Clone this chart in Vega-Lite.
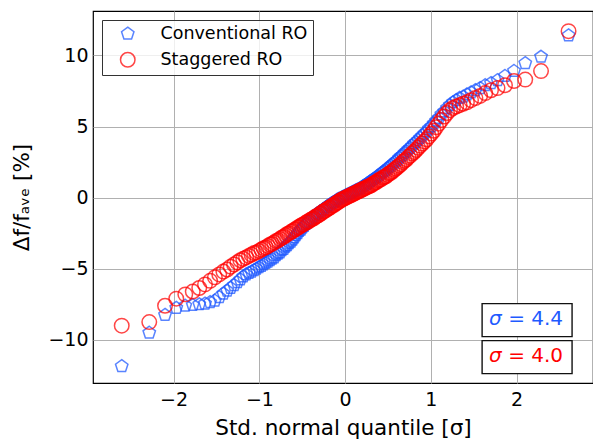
{
  "$schema": "https://vega.github.io/schema/vega-lite/v6.json",
  "width": 500,
  "height": 372,
  "autosize": "none",
  "padding": {"left": 93, "top": 11, "right": 0, "bottom": 58},
  "background": "white",
  "config": {
    "font": "DejaVu Sans",
    "view": {"stroke": "#000", "strokeWidth": 1.2},
    "axis": {
      "labelFont": "DejaVu Sans", "titleFont": "DejaVu Sans",
      "labelFontSize": 19, "titleFontSize": 21.5, "titleFontWeight": "normal",
      "labelColor": "#000", "titleColor": "#000",
      "gridColor": "#b0b0b0", "gridWidth": 1, "gridOpacity": 1,
      "domain": false, "ticks": false, "labelPadding": 5
    },
    "axisX": {"labelPadding": 7},
    "legend": {
      "labelFont": "DejaVu Sans", "labelFontSize": 17.5, "labelColor": "#000",
      "strokeColor": "#333", "fillColor": "rgba(255,255,255,0.8)",
      "padding": 5, "symbolOffset": 12, "labelOffset": 24, "rowPadding": 6,
      "symbolSize": 210, "symbolStrokeWidth": 1.5, "cornerRadius": 0
    }
  },
  "datasets": {
    "qq": [
      {"q": -2.605, "conv": -11.85, "stag": -9.0},
      {"q": -2.284, "conv": -9.5, "stag": -8.75},
      {"q": -2.1, "conv": -8.25, "stag": -7.6},
      {"q": -1.969, "conv": -7.75, "stag": -7.1},
      {"q": -1.864, "conv": -7.6, "stag": -6.8},
      {"q": -1.777, "conv": -7.55, "stag": -6.6},
      {"q": -1.701, "conv": -7.5, "stag": -6.35},
      {"q": -1.634, "conv": -7.45, "stag": -6.1},
      {"q": -1.574, "conv": -7.35, "stag": -5.85},
      {"q": -1.519, "conv": -7.25, "stag": -5.6},
      {"q": -1.468, "conv": -7.0, "stag": -5.4},
      {"q": -1.42, "conv": -6.75, "stag": -5.2},
      {"q": -1.376, "conv": -6.55, "stag": -5.05},
      {"q": -1.335, "conv": -6.35, "stag": -4.85},
      {"q": -1.295, "conv": -6.15, "stag": -4.7},
      {"q": -1.257, "conv": -5.95, "stag": -4.55},
      {"q": -1.222, "conv": -5.75, "stag": -4.4},
      {"q": -1.188, "conv": -5.55, "stag": -4.3},
      {"q": -1.155, "conv": -5.4, "stag": -4.2},
      {"q": -1.122, "conv": -5.3, "stag": -4.1},
      {"q": -1.092, "conv": -5.2, "stag": -4.0},
      {"q": -1.061, "conv": -5.1, "stag": -3.9},
      {"q": -1.033, "conv": -5.0, "stag": -3.85},
      {"q": -1.005, "conv": -4.9, "stag": -3.75},
      {"q": -0.977, "conv": -4.8, "stag": -3.65},
      {"q": -0.951, "conv": -4.7, "stag": -3.55},
      {"q": -0.925, "conv": -4.6, "stag": -3.5},
      {"q": -0.9, "conv": -4.5, "stag": -3.4},
      {"q": -0.875, "conv": -4.4, "stag": -3.3},
      {"q": -0.851, "conv": -4.3, "stag": -3.25},
      {"q": -0.827, "conv": -4.2, "stag": -3.15},
      {"q": -0.804, "conv": -4.05, "stag": -3.05},
      {"q": -0.781, "conv": -3.95, "stag": -3.0},
      {"q": -0.759, "conv": -3.85, "stag": -2.9},
      {"q": -0.737, "conv": -3.7, "stag": -2.8},
      {"q": -0.715, "conv": -3.6, "stag": -2.75},
      {"q": -0.694, "conv": -3.45, "stag": -2.65},
      {"q": -0.673, "conv": -3.35, "stag": -2.55},
      {"q": -0.652, "conv": -3.2, "stag": -2.5},
      {"q": -0.631, "conv": -3.1, "stag": -2.4},
      {"q": -0.611, "conv": -2.95, "stag": -2.35},
      {"q": -0.591, "conv": -2.8, "stag": -2.25},
      {"q": -0.572, "conv": -2.65, "stag": -2.2},
      {"q": -0.552, "conv": -2.5, "stag": -2.1},
      {"q": -0.533, "conv": -2.35, "stag": -2.05},
      {"q": -0.514, "conv": -2.25, "stag": -1.95},
      {"q": -0.495, "conv": -2.1, "stag": -1.9},
      {"q": -0.476, "conv": -2.0, "stag": -1.85},
      {"q": -0.457, "conv": -1.85, "stag": -1.75},
      {"q": -0.439, "conv": -1.75, "stag": -1.7},
      {"q": -0.421, "conv": -1.65, "stag": -1.65},
      {"q": -0.402, "conv": -1.55, "stag": -1.55},
      {"q": -0.384, "conv": -1.45, "stag": -1.5},
      {"q": -0.366, "conv": -1.35, "stag": -1.45},
      {"q": -0.349, "conv": -1.25, "stag": -1.35},
      {"q": -0.331, "conv": -1.15, "stag": -1.3},
      {"q": -0.313, "conv": -1.1, "stag": -1.25},
      {"q": -0.296, "conv": -1.0, "stag": -1.15},
      {"q": -0.278, "conv": -0.95, "stag": -1.1},
      {"q": -0.261, "conv": -0.85, "stag": -1.0},
      {"q": -0.244, "conv": -0.8, "stag": -0.95},
      {"q": -0.227, "conv": -0.7, "stag": -0.9},
      {"q": -0.21, "conv": -0.65, "stag": -0.8},
      {"q": -0.193, "conv": -0.55, "stag": -0.75},
      {"q": -0.176, "conv": -0.5, "stag": -0.7},
      {"q": -0.159, "conv": -0.4, "stag": -0.6},
      {"q": -0.142, "conv": -0.35, "stag": -0.55},
      {"q": -0.125, "conv": -0.3, "stag": -0.5},
      {"q": -0.109, "conv": -0.25, "stag": -0.4},
      {"q": -0.092, "conv": -0.15, "stag": -0.35},
      {"q": -0.075, "conv": -0.1, "stag": -0.3},
      {"q": -0.058, "conv": -0.05, "stag": -0.2},
      {"q": -0.042, "conv": 0.0, "stag": -0.15},
      {"q": -0.025, "conv": 0.05, "stag": -0.1},
      {"q": -0.008, "conv": 0.1, "stag": -0.05},
      {"q": 0.008, "conv": 0.15, "stag": 0.0},
      {"q": 0.025, "conv": 0.2, "stag": 0.05},
      {"q": 0.042, "conv": 0.25, "stag": 0.1},
      {"q": 0.058, "conv": 0.3, "stag": 0.15},
      {"q": 0.075, "conv": 0.35, "stag": 0.2},
      {"q": 0.092, "conv": 0.4, "stag": 0.25},
      {"q": 0.109, "conv": 0.45, "stag": 0.3},
      {"q": 0.125, "conv": 0.5, "stag": 0.35},
      {"q": 0.142, "conv": 0.55, "stag": 0.4},
      {"q": 0.159, "conv": 0.6, "stag": 0.45},
      {"q": 0.176, "conv": 0.65, "stag": 0.5},
      {"q": 0.193, "conv": 0.7, "stag": 0.55},
      {"q": 0.21, "conv": 0.8, "stag": 0.6},
      {"q": 0.227, "conv": 0.85, "stag": 0.65},
      {"q": 0.244, "conv": 0.9, "stag": 0.7},
      {"q": 0.261, "conv": 1.0, "stag": 0.75},
      {"q": 0.278, "conv": 1.05, "stag": 0.8},
      {"q": 0.296, "conv": 1.15, "stag": 0.85},
      {"q": 0.313, "conv": 1.2, "stag": 0.9},
      {"q": 0.331, "conv": 1.3, "stag": 1.0},
      {"q": 0.349, "conv": 1.35, "stag": 1.05},
      {"q": 0.366, "conv": 1.45, "stag": 1.1},
      {"q": 0.384, "conv": 1.5, "stag": 1.2},
      {"q": 0.402, "conv": 1.6, "stag": 1.25},
      {"q": 0.421, "conv": 1.7, "stag": 1.3},
      {"q": 0.439, "conv": 1.8, "stag": 1.4},
      {"q": 0.457, "conv": 1.85, "stag": 1.45},
      {"q": 0.476, "conv": 1.95, "stag": 1.5},
      {"q": 0.495, "conv": 2.05, "stag": 1.6},
      {"q": 0.514, "conv": 2.15, "stag": 1.7},
      {"q": 0.533, "conv": 2.25, "stag": 1.75},
      {"q": 0.552, "conv": 2.35, "stag": 1.85},
      {"q": 0.572, "conv": 2.45, "stag": 1.95},
      {"q": 0.591, "conv": 2.55, "stag": 2.05},
      {"q": 0.611, "conv": 2.65, "stag": 2.15},
      {"q": 0.631, "conv": 2.8, "stag": 2.25},
      {"q": 0.652, "conv": 2.9, "stag": 2.35},
      {"q": 0.673, "conv": 3.0, "stag": 2.5},
      {"q": 0.694, "conv": 3.15, "stag": 2.6},
      {"q": 0.715, "conv": 3.25, "stag": 2.7},
      {"q": 0.737, "conv": 3.4, "stag": 2.85},
      {"q": 0.759, "conv": 3.5, "stag": 2.95},
      {"q": 0.781, "conv": 3.65, "stag": 3.1},
      {"q": 0.804, "conv": 3.8, "stag": 3.2},
      {"q": 0.827, "conv": 3.9, "stag": 3.35},
      {"q": 0.851, "conv": 4.05, "stag": 3.5},
      {"q": 0.875, "conv": 4.2, "stag": 3.65},
      {"q": 0.9, "conv": 4.35, "stag": 3.8},
      {"q": 0.925, "conv": 4.5, "stag": 3.95},
      {"q": 0.951, "conv": 4.65, "stag": 4.1},
      {"q": 0.977, "conv": 4.85, "stag": 4.3},
      {"q": 1.005, "conv": 5.0, "stag": 4.5},
      {"q": 1.033, "conv": 5.2, "stag": 4.7},
      {"q": 1.061, "conv": 5.4, "stag": 4.95},
      {"q": 1.092, "conv": 5.6, "stag": 5.2},
      {"q": 1.122, "conv": 5.85, "stag": 5.45},
      {"q": 1.155, "conv": 6.05, "stag": 5.7},
      {"q": 1.188, "conv": 6.3, "stag": 5.95},
      {"q": 1.222, "conv": 6.5, "stag": 6.15},
      {"q": 1.257, "conv": 6.7, "stag": 6.3},
      {"q": 1.295, "conv": 6.85, "stag": 6.4},
      {"q": 1.335, "conv": 7.0, "stag": 6.5},
      {"q": 1.376, "conv": 7.1, "stag": 6.6},
      {"q": 1.42, "conv": 7.25, "stag": 6.7},
      {"q": 1.468, "conv": 7.4, "stag": 6.85},
      {"q": 1.519, "conv": 7.55, "stag": 7.0},
      {"q": 1.574, "conv": 7.7, "stag": 7.15},
      {"q": 1.634, "conv": 7.9, "stag": 7.35},
      {"q": 1.701, "conv": 8.05, "stag": 7.55},
      {"q": 1.777, "conv": 8.25, "stag": 7.7},
      {"q": 1.864, "conv": 8.55, "stag": 7.9},
      {"q": 1.969, "conv": 8.9, "stag": 8.2},
      {"q": 2.1, "conv": 9.45, "stag": 8.3},
      {"q": 2.284, "conv": 9.9, "stag": 8.9},
      {"q": 2.605, "conv": 11.4, "stag": 11.7}
    ]
  },
  "layer": [
    {
      "data": {"name": "qq"},
      "transform": [{"fold": ["conv", "stag"], "as": ["series", "val"]}],
      "mark": {"type": "point", "filled": false, "size": 210, "strokeWidth": 1.5, "opacity": 0.72},
      "encoding": {
        "x": {
          "field": "q", "type": "quantitative",
          "scale": {"domain": [-2.94, 2.89], "nice": false, "zero": false},
          "axis": {"orient": "bottom", "values": [-2, -1, 0, 1, 2], "title": "Std. normal quantile [σ]", "titlePadding": 8}
        },
        "y": {
          "field": "val", "type": "quantitative",
          "scale": {"domain": [-13.03, 13.12], "nice": false, "zero": false},
          "axis": {"orient": "left", "values": [-10, -5, 0, 5, 10], "title": "Δf/fₐᵥₑ [%]", "titlePadding": 14}
        },
        "color": {
          "field": "series", "type": "nominal",
          "scale": {"domain": ["conv", "stag"], "range": ["#1a55ff", "#ff0000"]},
          "legend": {"orient": "top-left", "offset": 9, "title": null, "labelExpr": "datum.label == 'conv' ? 'Conventional RO' : 'Staggered RO'"}
        },
        "shape": {
          "field": "series", "type": "nominal",
          "scale": {"domain": ["conv", "stag"], "range": ["M0,-0.9L0.856,-0.278L0.529,0.728L-0.529,0.728L-0.856,-0.278Z", "circle"]},
          "legend": {"orient": "top-left", "offset": 9, "title": null, "labelExpr": "datum.label == 'conv' ? 'Conventional RO' : 'Staggered RO'"}
        },
        "order": {"field": "series", "type": "nominal"}
      }
    },
    {
      "data": {"values": [{}]},
      "mark": {"type": "rect", "fill": "white", "stroke": "#111", "strokeWidth": 1.4},
      "encoding": {
        "x": {"datum": 1.597, "type": "quantitative", "axis": {"orient": "bottom", "values": [-2, -1, 0, 1, 2], "title": "Std. normal quantile [σ]", "titlePadding": 8}},
        "x2": {"datum": 2.646},
        "y": {"datum": -7.45, "type": "quantitative", "axis": {"orient": "left", "values": [-10, -5, 0, 5, 10], "title": "Δf/fₐᵥₑ [%]", "titlePadding": 14}},
        "y2": {"datum": -9.77}
      }
    },
    {
      "data": {"values": [{}]},
      "mark": {"type": "rect", "fill": "white", "stroke": "#111", "strokeWidth": 1.4},
      "encoding": {
        "x": {"datum": 1.597, "type": "quantitative", "axis": {"orient": "bottom", "values": [-2, -1, 0, 1, 2], "title": "Std. normal quantile [σ]", "titlePadding": 8}},
        "x2": {"datum": 2.646},
        "y": {"datum": -10.05, "type": "quantitative", "axis": {"orient": "left", "values": [-10, -5, 0, 5, 10], "title": "Δf/fₐᵥₑ [%]", "titlePadding": 14}},
        "y2": {"datum": -12.37}
      }
    },
    {
      "data": {"values": [{"s": "σ"}]},
      "mark": {"type": "text", "align": "left", "baseline": "middle", "fontSize": 20, "fontStyle": "italic", "color": "#1e5aff"},
      "encoding": {
        "x": {"datum": 1.678, "type": "quantitative", "axis": {"orient": "bottom", "values": [-2, -1, 0, 1, 2], "title": "Std. normal quantile [σ]", "titlePadding": 8}},
        "y": {"datum": -8.53, "type": "quantitative", "axis": {"orient": "left", "values": [-10, -5, 0, 5, 10], "title": "Δf/fₐᵥₑ [%]", "titlePadding": 14}},
        "text": {"field": "s"}
      }
    },
    {
      "data": {"values": [{"s": "= 4.4"}]},
      "mark": {"type": "text", "align": "right", "baseline": "middle", "fontSize": 20, "color": "#1e5aff"},
      "encoding": {
        "x": {"datum": 2.541, "type": "quantitative", "axis": {"orient": "bottom", "values": [-2, -1, 0, 1, 2], "title": "Std. normal quantile [σ]", "titlePadding": 8}},
        "y": {"datum": -8.53, "type": "quantitative", "axis": {"orient": "left", "values": [-10, -5, 0, 5, 10], "title": "Δf/fₐᵥₑ [%]", "titlePadding": 14}},
        "text": {"field": "s"}
      }
    },
    {
      "data": {"values": [{"s": "σ"}]},
      "mark": {"type": "text", "align": "left", "baseline": "middle", "fontSize": 20, "fontStyle": "italic", "color": "#ff0000"},
      "encoding": {
        "x": {"datum": 1.678, "type": "quantitative", "axis": {"orient": "bottom", "values": [-2, -1, 0, 1, 2], "title": "Std. normal quantile [σ]", "titlePadding": 8}},
        "y": {"datum": -11.1, "type": "quantitative", "axis": {"orient": "left", "values": [-10, -5, 0, 5, 10], "title": "Δf/fₐᵥₑ [%]", "titlePadding": 14}},
        "text": {"field": "s"}
      }
    },
    {
      "data": {"values": [{"s": "= 4.0"}]},
      "mark": {"type": "text", "align": "right", "baseline": "middle", "fontSize": 20, "color": "#ff0000"},
      "encoding": {
        "x": {"datum": 2.541, "type": "quantitative", "axis": {"orient": "bottom", "values": [-2, -1, 0, 1, 2], "title": "Std. normal quantile [σ]", "titlePadding": 8}},
        "y": {"datum": -11.1, "type": "quantitative", "axis": {"orient": "left", "values": [-10, -5, 0, 5, 10], "title": "Δf/fₐᵥₑ [%]", "titlePadding": 14}},
        "text": {"field": "s"}
      }
    }
  ]
}
